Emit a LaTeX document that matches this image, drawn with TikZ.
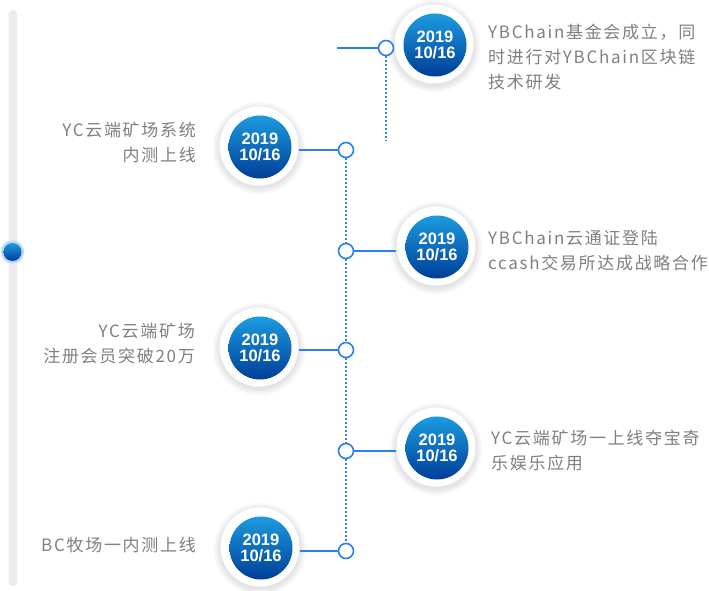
\documentclass[tikz,border=0pt]{standalone}
\usepackage{fontspec}
\setmainfont{Noto Sans CJK SC}[LetterSpace=10]
\newfontfamily\badgefont{Liberation Sans}
\definecolor{txtgray}{HTML}{808080}
\definecolor{lineblue}{HTML}{2A7FF2}
\definecolor{bluetop}{HTML}{1C9BDF}
\definecolor{bluebot}{HTML}{003E98}
\definecolor{trackgray}{HTML}{EDEDED}
\definecolor{halo}{HTML}{B9D5F7}
\tikzset{
  ring/.style={circle, fill=white, minimum size=79pt, inner sep=0pt},
  badge/.style={circle, minimum size=63pt, inner sep=0pt, top color=bluetop, bottom color=bluebot,
    text=white, font=\badgefont\bfseries\fontsize{16.5}{15.5}\selectfont, align=center},
  dotnode/.style={circle, draw=lineblue, line width=1.6pt, fill=white, minimum size=15pt, inner sep=0pt},
  conn/.style={draw=lineblue, line width=1.6pt},
  dotline/.style={draw=lineblue, line width=2pt, dash pattern=on 2pt off 2pt},
  lbl/.style={text=txtgray, font=\fontsize{17}{25}\selectfont, inner sep=0pt},
}
\newcommand\mkbadge[3]{%
  \foreach \k in {1,...,9} \fill[black, opacity=0.012] (#2,#3+2) circle ({39.5+\k*0.8});
  \node[ring] (r#1) at (#2,#3) {};
  \node[badge] (b#1) at (#2+1,#3+1) {2019\\10/16};
}
\begin{document}
\begin{tikzpicture}[x=1pt,y=-1pt]
\useasboundingbox (0,0) rectangle (709,591);
\fill[white] (0,0) rectangle (709,591);
% scrollbar
\fill[trackgray, rounded corners=4pt] (8.5,10) rectangle (17,586);
\node[circle, fill=halo, minimum size=23pt, inner sep=0pt] (knobhalo) at (12.5,252) {};
\node[circle, minimum size=18pt, inner sep=0pt, top color=bluetop, bottom color=bluebot] (knob) at (12.5,252) {};
% badges
\mkbadge{1}{434}{44}
\mkbadge{2}{259}{146}
\mkbadge{3}{436}{246}
\mkbadge{4}{259}{347}
\mkbadge{5}{436}{447}
\mkbadge{6}{260}{547}
% small circles
\node[dotnode] (c1) at (386,48) {};
\node[dotnode] (c2) at (346,150) {};
\node[dotnode] (c3) at (346,251) {};
\node[dotnode] (c4) at (346,350) {};
\node[dotnode] (c5) at (346,451) {};
\node[dotnode] (c6) at (346,551) {};
\coordinate (e1) at (337,48);
\coordinate (d1) at (386,141);
% connectors
\draw[conn] (e1) -- (c1.west);
\draw[dotline] (c1.south) -- (d1);
\draw[conn] (r2.east |- c2) -- (c2.west);
\draw[conn] (c3.east) -- (r3.west |- c3);
\draw[conn] (r4.east |- c4) -- (c4.west);
\draw[conn] (c5.east) -- (r5.west |- c5);
\draw[conn] (r6.east |- c6) -- (c6.west);
\draw[dotline] (c2) -- (c3);
\draw[dotline] (c3) -- (c4);
\draw[dotline] (c4) -- (c5);
\draw[dotline] (c5) -- (c6);
% labels
\node[lbl, anchor=west, align=left] (t1) at (488,57) {YBChain基金会成立，同\\时进行对YBChain区块链\\技术研发};
\node[lbl, anchor=east, align=right] (t2) at (196,142.5) {YC云端矿场系统\\内测上线};
\node[lbl, anchor=west, align=left] (t3) at (488,250.5) {YBChain云通证登陆\\ccash交易所达成战略合作};
\node[lbl, anchor=east, align=right] (t4) at (195,344) {YC云端矿场\\注册会员突破20万};
\node[lbl, anchor=west, align=left] (t5) at (491,450.5) {YC云端矿场一上线夺宝奇\\乐娱乐应用};
\node[lbl, anchor=east, align=right] (t6) at (196,545) {BC牧场一内测上线};
\end{tikzpicture}
\end{document}
